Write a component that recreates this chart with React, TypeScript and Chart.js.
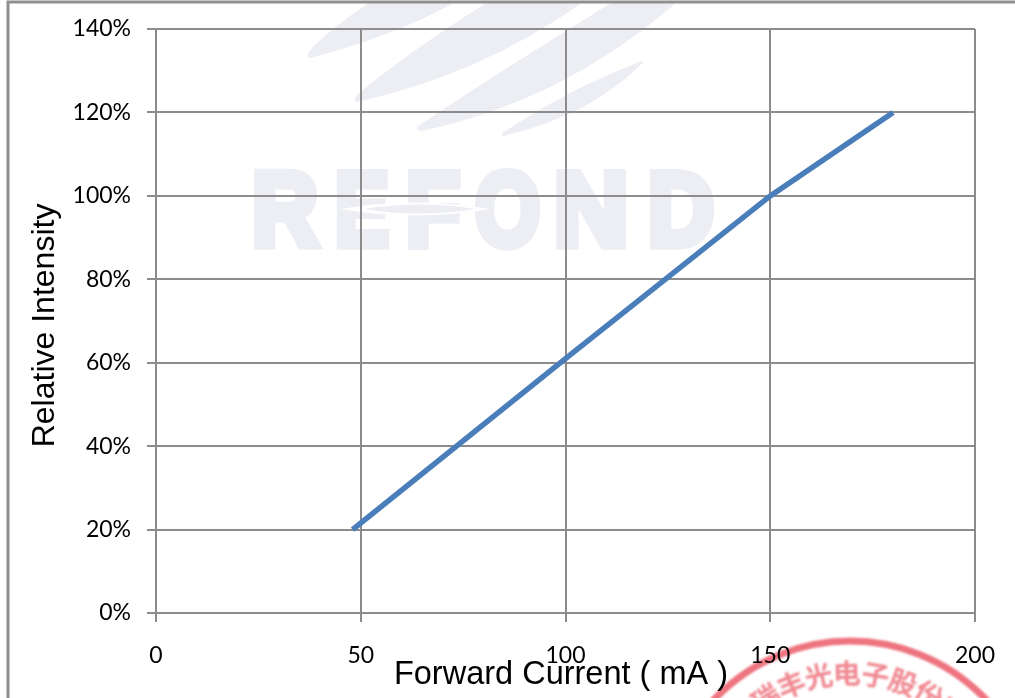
import React, { useEffect, useRef } from "react";
import { Chart, registerables } from "chart.js";

Chart.register(...registerables);

const currents = [48, 100, 150, 180];
const intensity = [20, 61, 100, 120];
const xTitle = "Forward Current ( mA ) ";
const yTitle = "Relative Intensity ";
const sealText = "深圳市瑞丰光电子股份有限公司";
const watermarkLetters = ["R", "E", "F", "O", "N", "D"];
const GRID = "#8c8c8c";
const TICK_FONT = { family: "Lato, 'Noto Sans', sans-serif", size: 23 };
const X_TITLE_FONT = { family: "'Liberation Sans', Arial, sans-serif", size: 32.5 };
const Y_TITLE_FONT = { family: "'Liberation Sans', Arial, sans-serif", size: 32 };

const backdrop = {
  id: "backdrop",
  beforeDraw(chart: any) {
    const c = chart.ctx;
    c.save();
    c.fillStyle = "#ffffff";
    c.fillRect(0, 0, chart.width, chart.height);
    const wm = "#eceef4";
    c.fillStyle = wm;
    c.strokeStyle = wm;
    c.lineJoin = "round";
    const swoosh = (pts: number[][], edge = 4) => {
      c.beginPath();
      c.moveTo(pts[0][0], pts[0][1]);
      for (let i = 1; i < pts.length; i++) {
        const p = pts[i];
        if (p.length === 4) c.quadraticCurveTo(p[0], p[1], p[2], p[3]);
        else c.lineTo(p[0], p[1]);
      }
      c.closePath();
      c.fill();
      if (edge) {
        c.lineWidth = edge;
        c.stroke();
      }
    };
    swoosh([[310, 54], [325, 35, 372, 3], [450, 3], [390, 35, 310, 56]]);
    swoosh([[357, 98], [400, 60, 490, 3], [578, 3], [480, 72, 357, 100]]);
    swoosh([[419, 128], [490, 80, 615, 3], [673, 3], [560, 100, 421, 129]]);
    swoosh([[503, 134], [565, 92, 642, 62], [590, 115, 503, 135]], 2);
    // REFOND lettering
    c.font = "bold 103px 'Liberation Sans', Arial, sans-serif";
    c.textBaseline = "alphabetic";
    c.textAlign = "left";
    c.lineWidth = 9;
    c.lineJoin = "miter";
    const xs = [252, 335, 406, 475, 554, 648];
    const ws = [66, 54, 54, 65, 76, 66];
    watermarkLetters.forEach((l, i) => {
      c.fillText(l, xs[i], 245, ws[i]);
      c.strokeText(l, xs[i], 245, ws[i]);
    });
    c.fillStyle = "#ffffff";
    swoosh([[340, 209], [415, 196, 490, 209], [415, 222, 340, 209]], 0);
    c.fillStyle = wm;
    swoosh([[363, 209], [420, 200, 476, 209], [420, 218, 363, 209]], 0);
    // page frame
    c.strokeStyle = "#8f8f8f";
    c.lineWidth = 3;
    c.beginPath();
    c.moveTo(8, 698);
    c.lineTo(8, 2);
    c.lineTo(1015, 2);
    c.stroke();
    c.restore();
  },
  afterDraw(chart: any) {
    const c = chart.ctx;
    c.save();
    c.globalCompositeOperation = "multiply";
    c.filter = "blur(0.8px)";
    const cx = 850, cy = 828, r = 187;
    c.strokeStyle = "#ee7480";
    c.lineWidth = 7;
    c.beginPath();
    c.arc(cx, cy, r, 0, Math.PI * 2);
    c.stroke();
    c.fillStyle = "#f08a92";
    c.font = "bold 28px 'Noto Sans CJK SC', sans-serif";
    c.textAlign = "center";
    c.textBaseline = "middle";
    Array.from(sealText).forEach((ch, i) => {
      const a = (i - 6) * 0.185 - 0.02;
      c.save();
      c.translate(cx + 155 * Math.sin(a), cy - 155 * Math.cos(a));
      c.rotate(a);
      c.fillText(ch, 0, 0);
      c.restore();
    });
    c.restore();
  },
};

export default function App() {
  const ref = useRef<HTMLCanvasElement>(null);
  useEffect(() => {
    const chart = new Chart(ref.current!, {
      type: "scatter",
      data: {
        datasets: [
          {
            data: currents.map((x, i) => ({ x, y: intensity[i] })),
            showLine: true,
            borderColor: "#4a7ebb",
            borderWidth: 5.5,
            pointRadius: 0,
            tension: 0,
            borderCapStyle: "butt",
          },
        ],
      },
      options: {
        animation: false,
        responsive: false,
        devicePixelRatio: 1,
        layout: { padding: { top: 29, right: 40, left: 0, bottom: 0 } },
        plugins: { legend: { display: false }, tooltip: { enabled: false } },
        scales: {
          x: {
            type: "linear",
            min: 0,
            max: 200,
            afterFit(s: any) {
              s.height = 85;
              s.paddingLeft = 0;
              s.paddingRight = 0;
            },
            ticks: { stepSize: 50, color: "#000", font: TICK_FONT, padding: 20, maxRotation: 0 },
            grid: { color: GRID, lineWidth: 2, tickLength: 9, tickColor: GRID },
            border: { color: GRID, width: 2 },
            title: { display: true, text: xTitle, color: "#000", font: X_TITLE_FONT, padding: { top: 0, bottom: 3 } },
          },
          y: {
            type: "linear",
            min: 0,
            max: 140,
            afterFit(s: any) {
              s.width = 156;
              s.paddingTop = 0;
              s.paddingBottom = 0;
            },
            ticks: { stepSize: 20, color: "#000", font: TICK_FONT, padding: 16, callback: (v: any) => v + "%" },
            grid: { color: GRID, lineWidth: 2, tickLength: 9, tickColor: GRID },
            border: { color: GRID, width: 2 },
            title: { display: true, text: yTitle, color: "#000", font: Y_TITLE_FONT, padding: { top: 26, bottom: 0 } },
          },
        },
      } as any,
      plugins: [backdrop],
    });
    return () => chart.destroy();
  }, []);
  return (
    <canvas
      ref={ref}
      width={1015}
      height={698}
      style={{ position: "absolute", left: 0, top: 0, display: "block" }}
    />
  );
}
